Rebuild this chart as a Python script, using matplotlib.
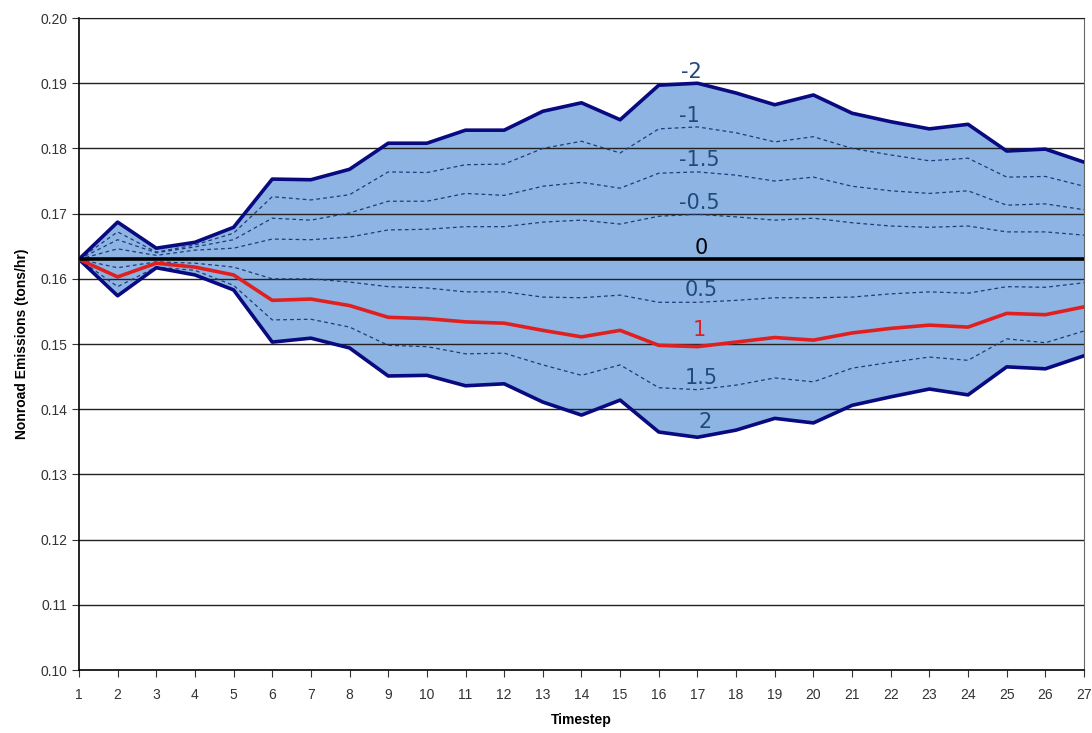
import matplotlib
matplotlib.use("Agg")
import matplotlib.pyplot as plt

plt.rcParams['font.family'] = ['Liberation Sans', 'DejaVu Sans']

timestep = list(range(1, 28))

# outer band (labelled -2 on top, 2 at the bottom)
upper_2 = [0.1630, 0.1687, 0.1647, 0.1656, 0.1679, 0.1753, 0.1752, 0.1768, 0.1808, 0.1808,
           0.1828, 0.1828, 0.1857, 0.1870, 0.1844, 0.1897, 0.1900, 0.1885, 0.1867, 0.1882,
           0.1854, 0.1841, 0.1830, 0.1837, 0.1796, 0.1799, 0.1779]
lower_2 = [0.1630, 0.1574, 0.1617, 0.1606, 0.1583, 0.1503, 0.1509, 0.1494, 0.1451, 0.1452,
           0.1436, 0.1439, 0.1411, 0.1391, 0.1414, 0.1365, 0.1357, 0.1368, 0.1386, 0.1379,
           0.1406, 0.1419, 0.1431, 0.1422, 0.1465, 0.1462, 0.1482]

# inner dashed lines
upper_outer = [0.1630, 0.1672, 0.1641, 0.1652, 0.1670, 0.1726, 0.1721, 0.1729, 0.1764, 0.1763,
               0.1775, 0.1776, 0.1800, 0.1811, 0.1793, 0.1830, 0.1833, 0.1824, 0.1810, 0.1818,
               0.1800, 0.1790, 0.1781, 0.1785, 0.1756, 0.1757, 0.1742]
upper_mid = [0.1630, 0.1660, 0.1640, 0.1649, 0.1660, 0.1693, 0.1690, 0.1701, 0.1719, 0.1719,
             0.1731, 0.1728, 0.1742, 0.1748, 0.1739, 0.1762, 0.1764, 0.1759, 0.1750, 0.1756,
             0.1742, 0.1735, 0.1731, 0.1735, 0.1713, 0.1715, 0.1706]
upper_inner = [0.1630, 0.1646, 0.1636, 0.1644, 0.1647, 0.1661, 0.1660, 0.1664, 0.1675, 0.1676,
               0.1680, 0.1680, 0.1687, 0.1690, 0.1684, 0.1696, 0.1699, 0.1695, 0.1690, 0.1693,
               0.1686, 0.1681, 0.1679, 0.1681, 0.1672, 0.1672, 0.1667]
lower_05 = [0.1630, 0.1617, 0.1626, 0.1624, 0.1618, 0.1600, 0.1600, 0.1595, 0.1588, 0.1586,
            0.1580, 0.1580, 0.1572, 0.1571, 0.1575, 0.1564, 0.1564, 0.1567, 0.1571, 0.1571,
            0.1572, 0.1577, 0.1580, 0.1578, 0.1588, 0.1587, 0.1594]
lower_15 = [0.1630, 0.1588, 0.1618, 0.1613, 0.1590, 0.1537, 0.1538, 0.1526, 0.1498, 0.1496,
            0.1485, 0.1486, 0.1468, 0.1452, 0.1468, 0.1433, 0.1430, 0.1437, 0.1448, 0.1442,
            0.1463, 0.1472, 0.1480, 0.1475, 0.1508, 0.1502, 0.1520]

# red line (1) and black base line (0)
red_1 = [0.1630, 0.1603, 0.1624, 0.1618, 0.1606, 0.1567, 0.1569, 0.1559, 0.1541, 0.1539,
         0.1534, 0.1532, 0.1521, 0.1511, 0.1521, 0.1498, 0.1496, 0.1503, 0.1510, 0.1506,
         0.1517, 0.1524, 0.1529, 0.1526, 0.1547, 0.1545, 0.1557]
base_0 = [0.1630] * 27

labels = ['-2', '-1', '-1.5', '-0.5', '0', '0.5', '1', '1.5', '2']
label_y = [0.1917, 0.1850, 0.1782, 0.1716, 0.1647, 0.1583, 0.1521, 0.1448, 0.1380]
label_x = [16.85, 16.8, 17.05, 17.05, 17.1, 17.1, 17.05, 17.1, 17.2]
label_col = ['#1f4a7a'] * 4 + ['black', '#1f4a7a', '#e02020', '#1f4a7a', '#1f4a7a']

fig = plt.figure(figsize=(10.92, 7.33), dpi=100)
ax = fig.add_axes([0.0723, 0.0859, 0.9204, 0.8895])

ax.fill_between(timestep, lower_2, upper_2, color='#8db4e2', lw=0, zorder=1)

for yv in [0.11, 0.12, 0.13, 0.14, 0.15, 0.16, 0.17, 0.18, 0.19, 0.20]:
    ax.axhline(yv, color='#222222', lw=1.0, zorder=2)

for s in [upper_outer, upper_mid, upper_inner, lower_05, lower_15]:
    ax.plot(timestep, s, color='#1f3a7a', lw=0.9, ls=(0, (3, 2.5)), zorder=3)

ax.plot(timestep, upper_2, color='#0a0a80', lw=2.6, zorder=4)
ax.plot(timestep, lower_2, color='#0a0a80', lw=2.6, zorder=4)
ax.plot(timestep, red_1, color='#e02020', lw=2.6, zorder=4)
ax.plot(timestep, base_0, color='black', lw=2.6, zorder=5)

for t, xx, yy, c in zip(labels, label_x, label_y, label_col):
    ax.text(xx, yy, t, color=c, fontsize=15, ha='center', va='center',
            family=['DejaVu Sans'], zorder=6)

ax.set_xlim(1, 27)
ax.set_ylim(0.10, 0.20)
ax.set_xticks(timestep)
ax.set_yticks([0.10 + 0.01 * i for i in range(11)])
ax.set_yticklabels(['%.2f' % (0.10 + 0.01 * i) for i in range(11)])
ax.tick_params(axis='both', direction='out', length=5, labelsize=10, colors='#333333')
ax.tick_params(axis='x', pad=8)

for side in ['left', 'bottom']:
    ax.spines[side].set_color('black')
    ax.spines[side].set_linewidth(1.2)
ax.spines['right'].set_color('#666666')
ax.spines['top'].set_color('#222222')

ax.set_xlabel('Timestep', fontsize=10, fontweight='bold', labelpad=8)
ax.set_ylabel('Nonroad Emissions (tons/hr)', fontsize=10, fontweight='bold', labelpad=8)

fig.savefig('out.png', dpi=100)
